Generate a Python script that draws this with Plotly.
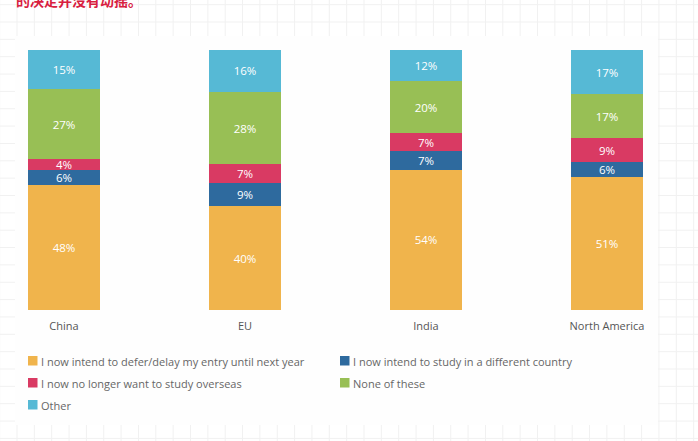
import plotly.graph_objects as go

W, H = 698, 441

regions = ["China", "EU", "India", "North America"]
series_names = [
    "I now intend to defer/delay my entry until next year",
    "I now intend to study in a different country",
    "I now no longer want to study overseas",
    "None of these",
    "Other",
]
defer_vals = [48, 40, 54, 51]
diff_country_vals = [6, 9, 7, 6]
no_longer_vals = [4, 7, 7, 9]
none_vals = [27, 28, 20, 17]
other_vals = [15, 16, 12, 17]
colors = ["#F0B44C", "#2E6A9E", "#D93A63", "#98BF55", "#56B9D5"]

all_vals = [defer_vals, diff_country_vals, no_longer_vals, none_vals, other_vals]

def px_x(x):
    return x / W

def px_y(y):
    return 1 - y / H

fig = go.Figure()
for name, vals, col in zip(series_names, all_vals, colors):
    fig.add_trace(go.Bar(
        x=regions, y=vals, name=name,
        marker=dict(color=col, line=dict(width=0)),
        width=0.4,
        texttemplate="%{y}%",
        textposition="inside",
        insidetextanchor="middle",
        textangle=0,
        constraintext="none",
        textfont=dict(color="white", size=11.5, family="Open Sans"),
        hoverinfo="skip",
        showlegend=False,
    ))

shapes = []
# background graph-paper grid
step = 17.35
k = -1
while True:
    x = 17 + step * k
    if x > W + 5:
        break
    shapes.append(dict(type="line", xref="paper", yref="paper",
                       x0=px_x(x), x1=px_x(x), y0=0, y1=1,
                       line=dict(color="#F1F1F1", width=1), layer="below"))
    k += 1
k = -2
while True:
    y = 22 + step * k
    if y > H + 5:
        break
    shapes.append(dict(type="line", xref="paper", yref="paper",
                       x0=0, x1=1, y0=px_y(y), y1=px_y(y),
                       line=dict(color="#F1F1F1", width=1), layer="below"))
    k += 1
# white card
shapes.append(dict(type="rect", xref="paper", yref="paper",
                   x0=px_x(15), x1=px_x(658), y0=px_y(425), y1=px_y(36),
                   fillcolor="#FEFEFE", line=dict(width=0), layer="below"))

annotations = [dict(text="的决定并没有动摇。", xref="paper", yref="paper",
                    x=px_x(14), y=px_y(0), xanchor="left", yanchor="middle",
                    showarrow=False,
                    font=dict(family="Noto Sans CJK SC", size=14, color="#D8203F",
                              weight="bold"))]

# legend (two columns, row-major order)
leg_cols = [28, 340]
leg_rows = [361, 383, 405]
for i, (name, col) in enumerate(zip(series_names, colors)):
    cx = leg_cols[i % 2]
    cy = leg_rows[i // 2]
    shapes.append(dict(type="rect", xref="paper", yref="paper",
                       x0=px_x(cx), x1=px_x(cx + 9.5),
                       y0=px_y(cy + 4.5), y1=px_y(cy - 5),
                       fillcolor=col, line=dict(width=0)))
    annotations.append(dict(text=name, xref="paper", yref="paper",
                            x=px_x(cx + 10.5), y=px_y(cy), xanchor="left",
                            yanchor="middle", showarrow=False,
                            font=dict(size=11, color="#666666", family="Open Sans")))

# x axis range so bar centers land at ~64, 245, 426, 607 px
c0, sp = 64.0, 181.0
xr = [(0 - c0) / sp, (W - c0) / sp]

fig.update_layout(
    width=W, height=H,
    margin=dict(l=0, r=0, t=0, b=0, autoexpand=False),
    paper_bgcolor="white",
    plot_bgcolor="rgba(0,0,0,0)",
    barmode="stack",
    font=dict(family="Open Sans", size=11, color="#555555"),
    xaxis=dict(domain=[0, 1], range=xr, showgrid=False, zeroline=False,
               showline=False, ticks="", tickfont=dict(size=11, color="#555555"),
               ticklabelstandoff=8, fixedrange=True, automargin=False),
    yaxis=dict(domain=[px_y(310), px_y(50)], range=[0, 100], visible=False,
               fixedrange=True, automargin=False),
    showlegend=False,
    shapes=shapes,
    annotations=annotations,
)

fig.write_html("out.html", config={"displayModeBar": False},
               post_script="document.body.style.margin='0px';")
